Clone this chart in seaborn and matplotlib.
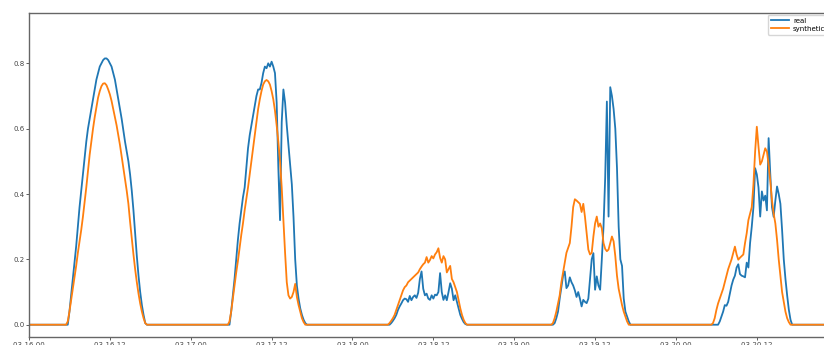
import pandas as pd
import matplotlib
matplotlib.use("Agg")
import matplotlib.pyplot as plt
import matplotlib.dates as mdates
import seaborn as sns

# Daytime output in 15-minute steps, every block starts at 05:30; night is zero
days = ["2021-03-16", "2021-03-17", "2021-03-18", "2021-03-19", "2021-03-20"]
block_start = "05:30"

real_0316 = [0, 0, 0.04, 0.09, 0.14, 0.19, 0.24, 0.30, 0.36, 0.41, 0.46, 0.51,
             0.56, 0.60, 0.63, 0.66, 0.69, 0.72, 0.75, 0.77, 0.79, 0.80, 0.81, 0.815,
             0.815, 0.81, 0.80, 0.79, 0.77, 0.75, 0.72, 0.69, 0.66, 0.63, 0.595, 0.56,
             0.53, 0.50, 0.46, 0.41, 0.35, 0.28, 0.21, 0.15, 0.10, 0.06, 0.03, 0.005, 0, 0]
synth_0316 = [0, 0.01, 0.04, 0.075, 0.11, 0.145, 0.18, 0.22, 0.255, 0.29, 0.33, 0.375,
              0.42, 0.47, 0.52, 0.56, 0.60, 0.635, 0.665, 0.695, 0.715, 0.73, 0.738, 0.739,
              0.733, 0.72, 0.705, 0.685, 0.66, 0.635, 0.61, 0.58, 0.55, 0.515, 0.48, 0.445,
              0.41, 0.37, 0.315, 0.265, 0.215, 0.17, 0.13, 0.095, 0.065, 0.04, 0.02, 0.005, 0, 0]

real_0317 = [0, 0, 0.04, 0.09, 0.14, 0.20, 0.26, 0.31, 0.35, 0.39, 0.42, 0.48,
             0.54, 0.58, 0.61, 0.64, 0.67, 0.70, 0.72, 0.72, 0.74, 0.77, 0.79, 0.785,
             0.80, 0.79, 0.805, 0.79, 0.77, 0.68, 0.48, 0.32, 0.62, 0.72, 0.68, 0.61,
             0.55, 0.49, 0.43, 0.33, 0.20, 0.12, 0.08, 0.05, 0.03, 0.015, 0.005, 0, 0]
synth_0317 = [0, 0.01, 0.04, 0.08, 0.12, 0.16, 0.195, 0.235, 0.275, 0.31, 0.35, 0.385,
              0.42, 0.46, 0.50, 0.54, 0.58, 0.62, 0.66, 0.69, 0.715, 0.735, 0.745, 0.749,
              0.745, 0.735, 0.715, 0.69, 0.655, 0.61, 0.56, 0.50, 0.42, 0.32, 0.22, 0.13,
              0.09, 0.08, 0.085, 0.10, 0.125, 0.085, 0.06, 0.04, 0.02, 0.008, 0, 0, 0]

real_0318 = [0, 0.005, 0.012, 0.02, 0.03, 0.045, 0.056, 0.065, 0.075, 0.08, 0.078, 0.07,
             0.088, 0.075, 0.085, 0.09, 0.082, 0.098, 0.14, 0.163, 0.11, 0.09, 0.095, 0.08,
             0.076, 0.09, 0.08, 0.092, 0.09, 0.10, 0.158, 0.10, 0.076, 0.09, 0.075, 0.10,
             0.127, 0.11, 0.075, 0.09, 0.07, 0.05, 0.03, 0.018, 0.008, 0.002, 0]
synth_0318 = [0.005, 0.012, 0.02, 0.03, 0.045, 0.06, 0.075, 0.09, 0.105, 0.115, 0.12, 0.13,
              0.135, 0.14, 0.145, 0.15, 0.155, 0.16, 0.17, 0.178, 0.185, 0.19, 0.207, 0.19,
              0.198, 0.21, 0.203, 0.215, 0.222, 0.234, 0.205, 0.19, 0.21, 0.20, 0.16, 0.17,
              0.18, 0.14, 0.13, 0.115, 0.10, 0.075, 0.05, 0.03, 0.015, 0.005, 0]

real_0319 = [0, 0, 0.005, 0.02, 0.04, 0.08, 0.115, 0.15, 0.163, 0.112, 0.12, 0.145,
             0.13, 0.12, 0.105, 0.085, 0.10, 0.08, 0.056, 0.076, 0.07, 0.066, 0.08, 0.14,
             0.20, 0.219, 0.107, 0.148, 0.12, 0.107, 0.20, 0.30, 0.45, 0.683, 0.331, 0.727,
             0.70, 0.66, 0.60, 0.48, 0.30, 0.20, 0.18, 0.08, 0.04, 0.025, 0.01, 0]
synth_0319 = [0, 0.005, 0.02, 0.04, 0.065, 0.09, 0.13, 0.16, 0.19, 0.22, 0.235, 0.25,
              0.30, 0.36, 0.384, 0.38, 0.375, 0.37, 0.345, 0.37, 0.33, 0.28, 0.23, 0.215,
              0.22, 0.27, 0.31, 0.331, 0.30, 0.31, 0.295, 0.25, 0.232, 0.225, 0.23, 0.25,
              0.27, 0.255, 0.21, 0.15, 0.11, 0.085, 0.06, 0.04, 0.025, 0.01, 0, 0]

real_0320 = [0, 0, 0, 0, 0.01, 0.025, 0.04, 0.06, 0.058, 0.07, 0.095, 0.12,
             0.138, 0.15, 0.175, 0.185, 0.155, 0.15, 0.148, 0.145, 0.19, 0.175, 0.25, 0.30,
             0.36, 0.479, 0.46, 0.42, 0.331, 0.408, 0.38, 0.395, 0.35, 0.571, 0.46, 0.36,
             0.33, 0.38, 0.423, 0.40, 0.37, 0.29, 0.20, 0.14, 0.09, 0.046, 0.015, 0]
synth_0320 = [0.005, 0.02, 0.045, 0.065, 0.08, 0.095, 0.11, 0.13, 0.15, 0.17, 0.185, 0.20,
              0.22, 0.239, 0.215, 0.199, 0.205, 0.21, 0.215, 0.25, 0.28, 0.32, 0.34, 0.36,
              0.43, 0.53, 0.606, 0.545, 0.49, 0.50, 0.52, 0.54, 0.53, 0.49, 0.44, 0.38,
              0.34, 0.31, 0.26, 0.20, 0.15, 0.10, 0.07, 0.04, 0.02, 0.008, 0, 0]

real_blocks = [real_0316, real_0317, real_0318, real_0319, real_0320]
synth_blocks = [synth_0316, synth_0317, synth_0318, synth_0319, synth_0320]
series_names = ["real", "synthetic"]
colors = ["#1f77b4", "#ff7f0e"]

index = pd.date_range(f"{days[0]} 00:00", f"{days[-1]} 23:45", freq="15min")


def full_series(blocks):
    s = pd.Series(0.0, index=index)
    for day, vals in zip(days, blocks):
        start = pd.Timestamp(f"{day} {block_start}")
        stamps = pd.date_range(start, periods=len(vals), freq="15min")
        s.loc[stamps] = vals
    return s


frames = []
for name, blocks in zip(series_names, [real_blocks, synth_blocks]):
    s = full_series(blocks)
    frames.append(pd.DataFrame({"time": s.index, "value": s.values, "series": name}))
df = pd.concat(frames, ignore_index=True)

fig = plt.figure(figsize=(8.24, 3.45), dpi=100)
ax = fig.add_axes([29 / 824, 8 / 345, 807 / 824, 324 / 345])

sns.lineplot(data=df, x="time", y="value", hue="series", hue_order=series_names,
             palette=colors, linewidth=1.3, errorbar=None, legend=False, ax=ax)

ax.set_xlim(index[0], index[-1])
ax.set_ylim(-0.0376, 0.954)
ax.set_yticks([0.0, 0.2, 0.4, 0.6, 0.8])
ax.xaxis.set_major_locator(mdates.HourLocator(byhour=[0, 12]))
ax.xaxis.set_major_formatter(mdates.DateFormatter("%m-%d %H"))
ax.set_xlabel("")
ax.set_ylabel("")
ax.tick_params(labelsize=5, length=2.2, width=0.6, pad=1.2, colors="#444")
for sp in ax.spines.values():
    sp.set_color("#666")
    sp.set_linewidth(1.0)

ax.legend(ax.lines[:2], series_names, loc="upper left",
          bbox_to_anchor=(768 / 824, 1 - 15 / 345), bbox_transform=fig.transFigure,
          borderaxespad=0, fontsize=5, labelspacing=0.3, handlelength=2.6,
          handletextpad=0.6, frameon=True)

fig.savefig("out.png", dpi=100)
